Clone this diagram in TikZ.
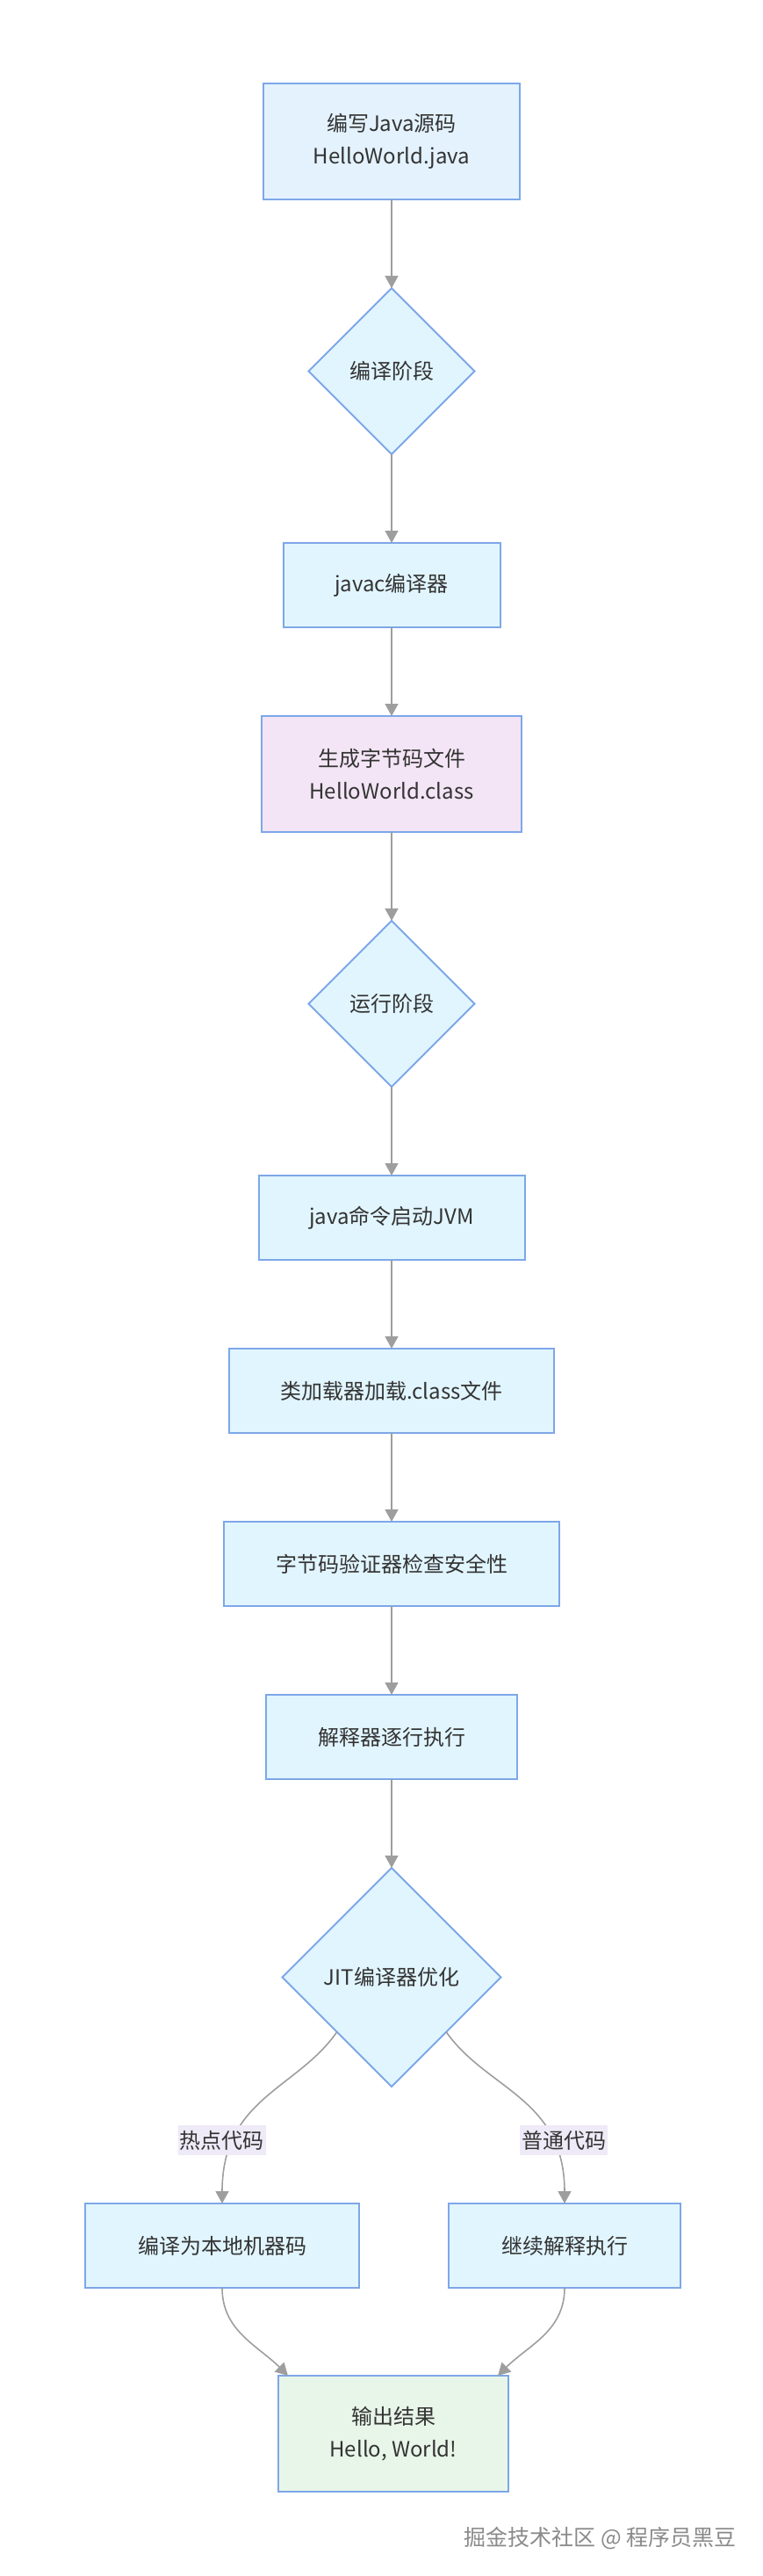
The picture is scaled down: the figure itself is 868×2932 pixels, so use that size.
\documentclass[tikz,border=0pt]{standalone}
\usepackage{fontspec}
\setmainfont{Noto Sans CJK SC}
\usetikzlibrary{positioning,shapes.geometric,arrows.meta,calc}
\definecolor{boxblue}{HTML}{E1F5FE}
\definecolor{srcblue}{HTML}{E3F2FD}
\definecolor{classpink}{HTML}{F3E5F5}
\definecolor{outgreen}{HTML}{E8F5E9}
\definecolor{edgeblue}{HTML}{7DA7E8}
\definecolor{linegray}{HTML}{9E9E9E}
\definecolor{labelbg}{HTML}{EEEAF7}
\definecolor{txt}{HTML}{333333}
\definecolor{wmgray}{HTML}{8A8A8A}

\begin{document}
\begin{tikzpicture}[x=1pt, y=1pt, node distance=101pt,
  every node/.style = {text=txt, font=\fontsize{24}{37}\selectfont},
  stepbox/.style = {rectangle, draw=edgeblue, line width=2pt, fill=boxblue,
    align=center, minimum height=96pt, inner xsep=10pt, outer sep=0pt},
  twoline/.style = {stepbox, minimum height=132pt},
  phase/.style = {diamond, aspect=1, draw=edgeblue, line width=2pt,
    fill=boxblue, inner sep=0pt, outer sep=0pt, minimum size=189pt},
  flow/.style = {draw=linegray, line width=1.6pt,
    -{Triangle[length=14pt, width=15pt]}},
  elabel/.style = {fill=labelbg, inner xsep=2pt, inner ysep=6pt},
  wmark/.style = {text=wmgray, font=\fontsize{25}{30}\selectfont}]
  \useasboundingbox (0,0) rectangle (868,-2932);
  \node[twoline, fill=srcblue, minimum width=292pt] (src) at (446,-161)
    {编写Java源码\\HelloWorld.java};
  \node[phase, below=of src] (compile) {编译阶段};
  \node[stepbox, minimum width=247pt, below=of compile] (javac) {javac编译器};
  \node[twoline, fill=classpink, minimum width=296pt, below=of javac] (bytecode)
    {生成字节码文件\\HelloWorld.class};
  \node[phase, below=of bytecode] (run) {运行阶段};
  \node[stepbox, minimum width=303pt, below=of run] (jvm) {java命令启动JVM};
  \node[stepbox, minimum width=370pt, below=of jvm] (loader) {类加载器加载.class文件};
  \node[stepbox, minimum width=382pt, below=of loader] (verify) {字节码验证器检查安全性};
  \node[stepbox, minimum width=286pt, below=of verify] (interp) {解释器逐行执行};
  \node[phase, minimum size=249pt, below=of interp] (jit) {JIT编译器优化};
  \node[stepbox, minimum width=312pt, below=133pt of jit, xshift=-193pt] (hot)
    {编译为本地机器码};
  \node[stepbox, minimum width=264pt, below=133pt of jit, xshift=197pt] (cont)
    {继续解释执行};
  \coordinate (mid) at ($(hot.south)!0.5!(cont.south)$);
  \node[twoline, fill=outgreen, minimum width=262pt, below=100pt of mid] (result)
    {输出结果\\Hello, World!};
  \node[wmark, anchor=east] (wm) at (842,-2889) {掘金技术社区 @ 程序员黑豆};

  \draw[flow] (src) -- (compile);
  \draw[flow] (compile) -- (javac);
  \draw[flow] (javac) -- (bytecode);
  \draw[flow] (bytecode) -- (run);
  \draw[flow] (run) -- (jvm);
  \draw[flow] (jvm) -- (loader);
  \draw[flow] (loader) -- (verify);
  \draw[flow] (verify) -- (interp);
  \draw[flow] (interp) -- (jit);
  \draw[flow] (jit.south west) .. controls +(-125:80pt) and +(90:120pt) .. (hot.north)
    node[elabel, pos=0.75, xshift=-14pt] {热点代码};
  \draw[flow] (jit.south east) .. controls +(-55:80pt) and +(90:120pt) .. (cont.north)
    node[elabel, pos=0.75, xshift=14pt] {普通代码};
  \draw[flow] (hot.south) to[out=-90, in=135] ([xshift=11pt]result.north west);
  \draw[flow] (cont.south) to[out=-90, in=45] ([xshift=-12pt]result.north east);
\end{tikzpicture}
\end{document}
